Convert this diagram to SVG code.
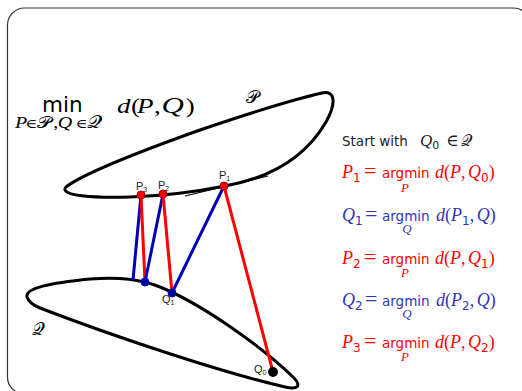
<svg xmlns="http://www.w3.org/2000/svg" width="522" height="391" viewBox="0 0 522 391">
<style>
.mi{font-family:"Liberation Serif","DejaVu Serif",serif;font-style:italic;font-size:18px}
.rm{font-family:"Liberation Serif","DejaVu Serif",serif;font-size:18px}
.eq{font-family:"Liberation Serif","DejaVu Serif",serif;font-size:22px}
.sf{font-family:"DejaVu Sans","Verdana",sans-serif;font-size:13.5px}
.sd{font-family:"DejaVu Sans",sans-serif;font-size:12px}
.us{font-size:13px}
.cal{font-family:"DejaVu Serif","DejaVu Sans","Noto Sans",serif;font-style:normal}
.lbl{font-family:"Liberation Sans",Arial,sans-serif;font-size:11px;fill:#222}
.lsub{font-size:7px}
.ws{word-spacing:-2px}
.curve{fill:none;stroke:#000;stroke-width:3}
.red{stroke:#ff0000;stroke-width:3;fill:none}
.blue{stroke:#0000b4;stroke-width:3;fill:none}
.rdot{fill:#ff0000;stroke:#990000;stroke-width:1}
.bdot{fill:#000099;stroke:#0000cc;stroke-width:1}
</style>
<rect x="7.5" y="8" width="523" height="386" rx="17" ry="17" fill="none" stroke="#333" stroke-width="1.2"/>

<g id="title">
<text class="sf" x="42" y="112" style="font-size:21.5px">min</text>
<text transform="translate(117,113) scale(1.35,1)"><tspan class="mi" x="0" style="font-size:20px">d</tspan><tspan class="rm" x="10.4" style="font-size:20px">(</tspan><tspan class="mi" x="14.8" style="font-size:20px">P</tspan><tspan class="rm" x="27.4" style="font-size:20px">,</tspan><tspan class="mi" x="33" style="font-size:23px">Q</tspan><tspan class="rm" x="51" style="font-size:20px">)</tspan></text>
<text transform="translate(15,128) scale(1.25,1)"><tspan class="mi" x="0" style="font-size:16px">P</tspan><tspan class="rm" x="8.4" style="font-size:13px">∈</tspan><tspan class="cal" x="17.5" style="font-size:16px">𝒫</tspan><tspan class="rm" x="30.6" style="font-size:16px">,</tspan><tspan class="mi" x="34.2" style="font-size:16px">Q</tspan><tspan class="rm" x="48.6" style="font-size:13px">∈</tspan><tspan class="cal" x="57.5" style="font-size:17px">𝒬</tspan></text>
</g>

<g id="set-P">
<path class="curve" d="M66,187 C80,176 130,155 200,130 C250,113 300,98 322,93 C336,90 336,104 326,122 C305,158 270,178 225,186 C190,193 160,196 130,197 C95,198 58,196 66,187 Z"/>
<text class="cal" x="246" y="103" style="font-size:18px">𝒫</text>
</g>

<g id="set-Q">
<path class="curve" d="M27,297 C25,288 50,283 90,279 C120,277 140,279 160,287 C200,303 260,345 293,377 C302,386 298,390 285,387 C220,372 110,335 40,308 C30,304 28,300 27,297 Z"/>
<text class="cal" x="32" y="335" style="font-size:18px">𝒬</text>
</g>

<g id="connectors">
<line x1="185" y1="196" x2="268" y2="176" stroke="#000" stroke-width="1.2"/>
<line class="blue" x1="141" y1="195" x2="133" y2="280"/>
<line class="red" x1="141" y1="195" x2="145" y2="282"/>
<line class="blue" x1="145" y1="282" x2="163" y2="194"/>
<line class="red" x1="163" y1="194" x2="172" y2="293"/>
<line class="blue" x1="172" y1="293" x2="224" y2="186"/>
<line class="red" x1="224" y1="186" x2="273" y2="372"/>
</g>

<g id="P3"><circle class="rdot" cx="141" cy="195" r="4"/><text class="lbl" x="136" y="190">P<tspan class="lsub" dy="2">3</tspan></text></g>
<g id="P2"><circle class="rdot" cx="163" cy="194" r="4"/><text class="lbl" x="158" y="189">P<tspan class="lsub" dy="2">2</tspan></text></g>
<g id="P1"><circle class="rdot" cx="224" cy="186" r="4"/><text class="lbl" x="219" y="179">P<tspan class="lsub" dy="2">1</tspan></text></g>
<g id="Q2"><circle class="bdot" cx="145" cy="282" r="4"/></g>
<g id="Q1"><circle class="bdot" cx="172" cy="293" r="4"/><text class="lbl" x="162" y="303">Q<tspan class="lsub" dy="2">1</tspan></text></g>
<g id="Q0"><circle cx="273" cy="372" r="5" fill="#000"/><text class="lbl" x="254" y="373">Q<tspan class="lsub" dy="2">0</tspan></text></g>

<g id="eq-start" fill="#222">
<text y="146"><tspan class="sf" x="342">Start with </tspan><tspan class="mi" x="420" style="font-size:17px">Q</tspan><tspan class="sd" dy="3" style="font-size:11px">0</tspan><tspan class="rm" x="446" dy="-3" style="font-size:17px">∈</tspan><tspan class="cal" x="461" style="font-size:16px">𝒬</tspan></text>
</g>

<g id="eq-p1" fill="#ff0000">
<text class="ws" y="178"><tspan class="mi" x="342">P</tspan><tspan class="sd" dy="4">1</tspan><tspan class="eq" x="364" dy="-4">=</tspan><tspan class="sf" x="382">argmin</tspan><tspan class="mi" x="435">d</tspan><tspan class="rm">(</tspan><tspan class="mi">P</tspan><tspan class="rm">, </tspan><tspan class="mi">Q</tspan><tspan class="sd" dy="4">0</tspan><tspan class="rm" dy="-4">)</tspan></text>
<text class="mi us" x="405" y="192" text-anchor="middle">P</text>
</g>

<g id="eq-q1" fill="#3333b3">
<text class="ws" y="221"><tspan class="mi" x="342">Q</tspan><tspan class="sd" dy="4">1</tspan><tspan class="eq" x="365" dy="-4">=</tspan><tspan class="sf" x="382">argmin</tspan><tspan class="mi" x="436">d</tspan><tspan class="rm">(</tspan><tspan class="mi">P</tspan><tspan class="sd" dy="4">1</tspan><tspan class="rm" dy="-4">, </tspan><tspan class="mi">Q</tspan><tspan class="rm">)</tspan></text>
<text class="mi us" x="407" y="233" text-anchor="middle">Q</text>
</g>

<g id="eq-p2" fill="#ff0000">
<text class="ws" y="264"><tspan class="mi" x="342">P</tspan><tspan class="sd" dy="4">2</tspan><tspan class="eq" x="364" dy="-4">=</tspan><tspan class="sf" x="382">argmin</tspan><tspan class="mi" x="435">d</tspan><tspan class="rm">(</tspan><tspan class="mi">P</tspan><tspan class="rm">, </tspan><tspan class="mi">Q</tspan><tspan class="sd" dy="4">1</tspan><tspan class="rm" dy="-4">)</tspan></text>
<text class="mi us" x="405" y="277" text-anchor="middle">P</text>
</g>

<g id="eq-q2" fill="#3333b3">
<text class="ws" y="306"><tspan class="mi" x="342">Q</tspan><tspan class="sd" dy="4">2</tspan><tspan class="eq" x="365" dy="-4">=</tspan><tspan class="sf" x="382">argmin</tspan><tspan class="mi" x="436">d</tspan><tspan class="rm">(</tspan><tspan class="mi">P</tspan><tspan class="sd" dy="4">2</tspan><tspan class="rm" dy="-4">, </tspan><tspan class="mi">Q</tspan><tspan class="rm">)</tspan></text>
<text class="mi us" x="407" y="318" text-anchor="middle">Q</text>
</g>

<g id="eq-p3" fill="#ff0000">
<text class="ws" y="348"><tspan class="mi" x="342">P</tspan><tspan class="sd" dy="4">3</tspan><tspan class="eq" x="364" dy="-4">=</tspan><tspan class="sf" x="382">argmin</tspan><tspan class="mi" x="435">d</tspan><tspan class="rm">(</tspan><tspan class="mi">P</tspan><tspan class="rm">, </tspan><tspan class="mi">Q</tspan><tspan class="sd" dy="4">2</tspan><tspan class="rm" dy="-4">)</tspan></text>
<text class="mi us" x="405" y="361" text-anchor="middle">P</text>
</g>
</svg>
